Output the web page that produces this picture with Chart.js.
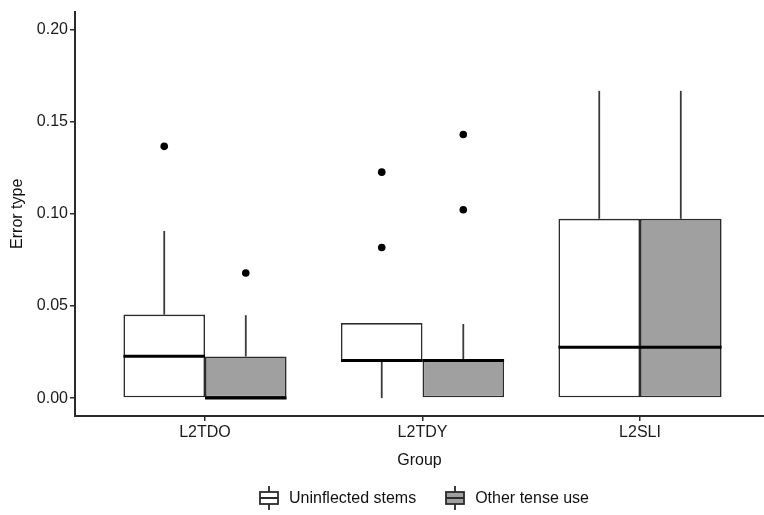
<!DOCTYPE html>
<html>
<head>
<meta charset="utf-8">
<script src="https://cdn.jsdelivr.net/npm/chart.js@4/dist/chart.umd.min.js"></script>
<style>
  body { margin: 0; background: #fff; }
  #wrap { position: relative; width: 764px; height: 515px; overflow: hidden; }
  #legend { position: absolute; left: 258px; top: 486px; display: flex; align-items: center;
    font-family: "Liberation Sans", Arial, sans-serif; font-size: 16px; color: #111; }
  .item { display: flex; align-items: center; margin-right: 28px; }
  .item canvas { margin-right: 9px; }
</style>
</head>
<body>
<div id="wrap">
  <canvas id="chart"></canvas>
  <div id="legend"></div>
</div>
<script>
// Data
const categories = ["L2TDO", "L2TDY", "L2SLI"];
const yTicks = [0, 0.05, 0.1, 0.15, 0.2];

// Uninflected stems
const stemsLower = [0, 0, 0];
const stemsQ1 = [0, 0.0204, 0];
const stemsMedian = [0.0227, 0.0204, 0.0276];
const stemsQ3 = [0.0453, 0.0407, 0.0973];
const stemsUpper = [0.0907, 0.0407, 0.1667];
const stemsOutliers = [[0.1366], [0.1226, 0.0817], []];

// Other tense use
const tenseLower = [0, 0, 0];
const tenseQ1 = [0, 0, 0];
const tenseMedian = [0, 0.0204, 0.0276];
const tenseQ3 = [0.0226, 0.0204, 0.0973];
const tenseUpper = [0.045, 0.0402, 0.1667];
const tenseOutliers = [[0.0679], [0.143, 0.1022], []];

const series = [
  { label: "Uninflected stems", fill: "#ffffff", lower: stemsLower, q1: stemsQ1, median: stemsMedian, q3: stemsQ3, upper: stemsUpper, outliers: stemsOutliers },
  { label: "Other tense use", fill: "#a0a0a0", lower: tenseLower, q1: tenseQ1, median: tenseMedian, q3: tenseQ3, upper: tenseUpper, outliers: tenseOutliers },
];

const lineColor = "#2b2b2b";
const font = "'Liberation Sans', Arial, sans-serif";

// whiskers, medians and outlier dots, placed with the chart's own scales
const boxExtras = {
  id: "boxExtras",
  beforeDatasetsDraw(chart) {
    const ctx = chart.ctx;
    const y = chart.scales.y;
    ctx.save();
    ctx.strokeStyle = "#3a3a3a";
    ctx.lineWidth = 1.8;
    series.forEach((s, di) => {
      chart.getDatasetMeta(di).data.forEach((bar, i) => {
        ctx.beginPath();
        ctx.moveTo(bar.x, y.getPixelForValue(s.q3[i]));
        ctx.lineTo(bar.x, y.getPixelForValue(s.upper[i]));
        ctx.moveTo(bar.x, y.getPixelForValue(s.q1[i]));
        ctx.lineTo(bar.x, y.getPixelForValue(s.lower[i]));
        ctx.stroke();
      });
    });
    ctx.restore();
  },
  afterDatasetsDraw(chart) {
    const ctx = chart.ctx;
    const y = chart.scales.y;
    ctx.save();
    series.forEach((s, di) => {
      chart.getDatasetMeta(di).data.forEach((bar, i) => {
        const py = y.getPixelForValue(s.median[i]);
        ctx.strokeStyle = "#000";
        ctx.lineWidth = 3;
        ctx.beginPath();
        ctx.moveTo(bar.x - bar.width / 2, py);
        ctx.lineTo(bar.x + bar.width / 2, py);
        ctx.stroke();
        ctx.fillStyle = "#000";
        s.outliers[i].forEach(v => {
          ctx.beginPath();
          ctx.arc(bar.x, y.getPixelForValue(v), 3.8, 0, Math.PI * 2);
          ctx.fill();
        });
      });
    });
    ctx.restore();
  }
};

const chart = new Chart(document.getElementById("chart"), {
  type: "bar",
  data: {
    datasets: series.map(s => ({
      label: s.label,
      data: categories.map((c, i) => ({ x: i + 1, y: [s.q1[i], s.q3[i]] })),
      backgroundColor: s.fill,
      borderColor: lineColor,
      borderWidth: 1.6,
      borderSkipped: false,
      categoryPercentage: 0.75,
      barPercentage: 1.0,
    })),
  },
  options: {
    responsive: true,
    maintainAspectRatio: false,
    animation: false,
    layout: { padding: { top: 8, right: 0, bottom: 40, left: 0 } },
    plugins: {
      legend: { display: false },
      tooltip: { enabled: false },
    },
    scales: {
      x: {
        type: "linear",
        offset: false,
        min: 0.4023,
        max: 3.57,
        afterBuildTicks: scale => { scale.ticks = categories.map((c, i) => ({ value: i + 1 })); },
        afterFit: scale => { scale.height = 59; },
        ticks: {
          callback: v => categories[v - 1],
          font: { family: font, size: 16 },
          color: "#1a1a1a",
          padding: 2,
          maxRotation: 0,
        },
        grid: { offset: false, drawOnChartArea: false, drawTicks: true, tickLength: 5, color: lineColor, tickColor: lineColor, tickWidth: 1.5, lineWidth: 1.5 },
        border: { display: true, color: lineColor, width: 2 },
        title: { display: true, text: "Group", font: { family: font, size: 16 }, color: "#111", padding: { top: 2, bottom: 5 } },
      },
      y: {
        min: -0.0097,
        max: 0.2097,
        afterBuildTicks: scale => { scale.ticks = yTicks.map(v => ({ value: v })); },
        afterFit: scale => { scale.width = 75; },
        ticks: {
          callback: v => v.toFixed(2),
          font: { family: font, size: 16 },
          color: "#1a1a1a",
          padding: 2,
        },
        grid: { offset: false, drawOnChartArea: false, drawTicks: true, tickLength: 5, color: lineColor, tickColor: lineColor, tickWidth: 1.5, lineWidth: 1.5 },
        border: { display: true, color: lineColor, width: 2 },
        title: { display: true, text: "Error type", font: { family: font, size: 16 }, color: "#111", padding: { top: 8, bottom: 0 } },
      },
    },
  },
  plugins: [boxExtras],
});

// legend with small boxplot keys
const legend = document.getElementById("legend");
series.forEach(s => {
  const item = document.createElement("div");
  item.className = "item";
  const icon = document.createElement("canvas");
  icon.width = 22;
  icon.height = 24;
  const c = icon.getContext("2d");
  c.strokeStyle = lineColor;
  c.lineWidth = 1.8;
  c.fillStyle = s.fill;
  c.fillRect(2, 6, 18, 12);
  c.strokeRect(2, 6, 18, 12);
  c.beginPath();
  c.moveTo(11, 0); c.lineTo(11, 6);
  c.moveTo(11, 18); c.lineTo(11, 24);
  c.moveTo(2, 12); c.lineTo(20, 12);
  c.stroke();
  const text = document.createElement("span");
  text.textContent = s.label;
  item.appendChild(icon);
  item.appendChild(text);
  legend.appendChild(item);
});
</script>
</body>
</html>
